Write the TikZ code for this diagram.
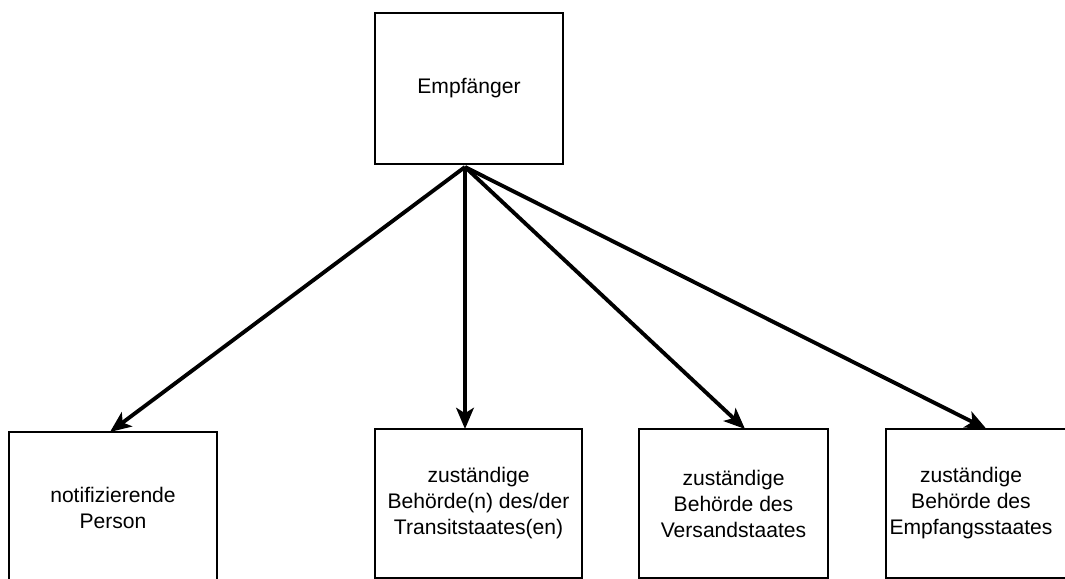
\documentclass[tikz,border=0pt]{standalone}
\usepackage{fontspec}
\setmainfont{Liberation Sans}
\usetikzlibrary{arrows.meta}

\begin{document}
\begin{tikzpicture}[line width=1pt,
      every node/.style={inner sep=0pt,outer sep=0pt},
      boxtext/.style={align=center,font=\fontsize{12}{14.8}\selectfont},
      box/.style={draw,boxtext},
      >={Stealth[length=12pt,width=10pt,inset=3pt]}]
      \useasboundingbox(0,0)rectangle(21.3,11.58);
      \clip(0,0)rectangle(21.3,11.58);
      \node[box,minimum width=3.76cm,minimum height=3.02cm](empf)at(9.38,9.81){Empfänger};
      \node[box,minimum width=4.16cm,minimum height=3.04cm](notif)at(2.26,1.42)
        {notifizierende\\Person};
      \node[box,minimum width=4.14cm,minimum height=2.98cm](trans)at(9.57,1.51)
        {zuständige\\Behörde(n) des/der\\Transitstaates(en)};
      \node[box,minimum width=3.78cm,minimum height=2.98cm](vers)at(14.67,1.51)
        {zuständige\\Behörde des\\Versandstaates};
      \node[box,minimum width=4cm,minimum height=2.98cm,
        label={[boxtext,xshift=-0.3cm]center:zuständige\\Behörde des\\Empfangsstaates}]
        (empfst)at(19.72,1.51){};
      \coordinate(src)at([shift={(-0.08,-0.06)}]empf.south);
      \draw[->,line width=2.2pt](src)--([xshift=-0.06cm]notif.north);
      \draw[->,line width=2.2pt](src)--(src|-trans.north);
      \draw[->,line width=2.2pt](src)--([xshift=0.23cm]vers.north);
      \draw[->,line width=2.2pt](src)--([xshift=0.01cm]empfst.north);
   \end{tikzpicture}
\end{document}
